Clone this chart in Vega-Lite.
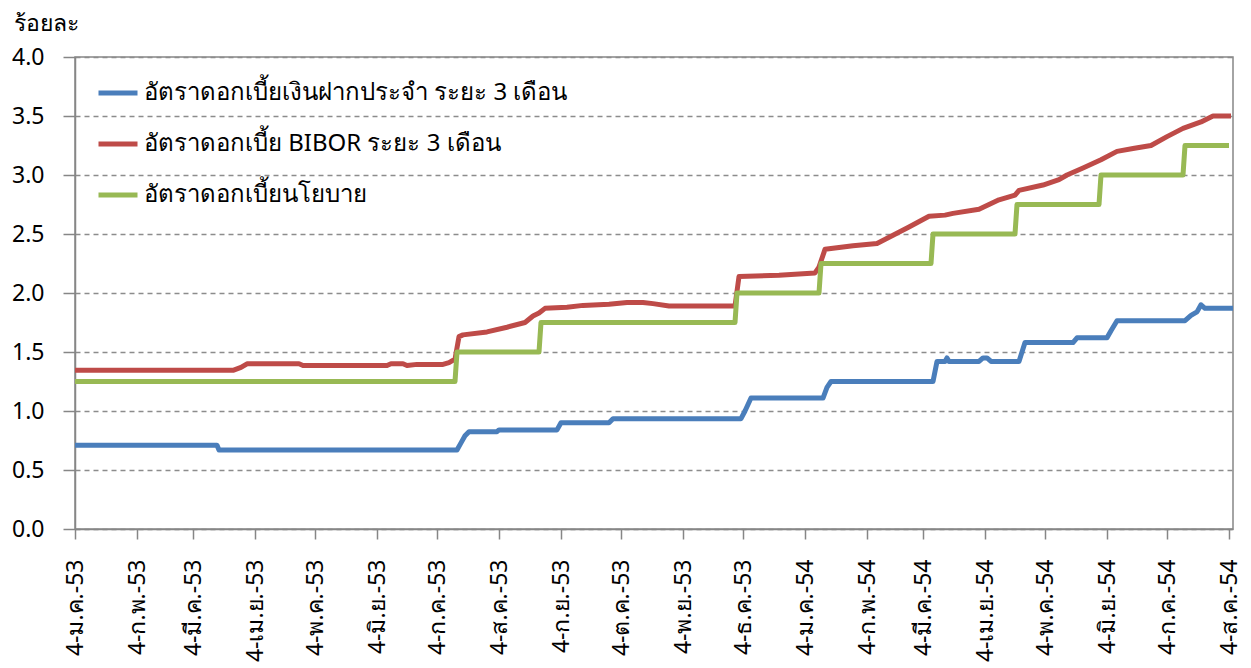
{
  "$schema": "https://vega.github.io/schema/vega-lite/v6.json",
  "autosize": {"type": "none"},
  "width": 1158,
  "height": 472,
  "padding": {"left": 75, "top": 57, "right": 18, "bottom": 139},
  "background": "white",
  "config": {
    "font": "Noto Sans",
    "view": {"stroke": "#868686", "strokeWidth": 1.5},
    "axis": {"domainColor": "#868686", "tickColor": "#868686", "labelColor": "#000000", "titleColor": "#000000", "domainWidth": 1.5, "tickWidth": 1.5}
  },
  "data": {
    "format": {"parse": {"date": "date:'%Y-%m-%d'"}},
    "values": [
      {"date": "2010-01-04", "series": "อัตราดอกเบี้ยเงินฝากประจำ ระยะ 3 เดือน", "v": 0.71},
      {"date": "2010-03-16", "series": "อัตราดอกเบี้ยเงินฝากประจำ ระยะ 3 เดือน", "v": 0.71},
      {"date": "2010-03-17", "series": "อัตราดอกเบี้ยเงินฝากประจำ ระยะ 3 เดือน", "v": 0.67},
      {"date": "2010-07-14", "series": "อัตราดอกเบี้ยเงินฝากประจำ ระยะ 3 เดือน", "v": 0.67},
      {"date": "2010-07-16", "series": "อัตราดอกเบี้ยเงินฝากประจำ ระยะ 3 เดือน", "v": 0.73},
      {"date": "2010-07-18", "series": "อัตราดอกเบี้ยเงินฝากประจำ ระยะ 3 เดือน", "v": 0.79},
      {"date": "2010-07-20", "series": "อัตราดอกเบี้ยเงินฝากประจำ ระยะ 3 เดือน", "v": 0.825},
      {"date": "2010-08-03", "series": "อัตราดอกเบี้ยเงินฝากประจำ ระยะ 3 เดือน", "v": 0.825},
      {"date": "2010-08-04", "series": "อัตราดอกเบี้ยเงินฝากประจำ ระยะ 3 เดือน", "v": 0.84},
      {"date": "2010-09-02", "series": "อัตราดอกเบี้ยเงินฝากประจำ ระยะ 3 เดือน", "v": 0.84},
      {"date": "2010-09-04", "series": "อัตราดอกเบี้ยเงินฝากประจำ ระยะ 3 เดือน", "v": 0.90},
      {"date": "2010-09-28", "series": "อัตราดอกเบี้ยเงินฝากประจำ ระยะ 3 เดือน", "v": 0.90},
      {"date": "2010-09-30", "series": "อัตราดอกเบี้ยเงินฝากประจำ ระยะ 3 เดือน", "v": 0.935},
      {"date": "2010-12-03", "series": "อัตราดอกเบี้ยเงินฝากประจำ ระยะ 3 เดือน", "v": 0.935},
      {"date": "2010-12-05", "series": "อัตราดอกเบี้ยเงินฝากประจำ ระยะ 3 เดือน", "v": 1.00},
      {"date": "2010-12-08", "series": "อัตราดอกเบี้ยเงินฝากประจำ ระยะ 3 เดือน", "v": 1.11},
      {"date": "2011-01-13", "series": "อัตราดอกเบี้ยเงินฝากประจำ ระยะ 3 เดือน", "v": 1.11},
      {"date": "2011-01-15", "series": "อัตราดอกเบี้ยเงินฝากประจำ ระยะ 3 เดือน", "v": 1.20},
      {"date": "2011-01-17", "series": "อัตราดอกเบี้ยเงินฝากประจำ ระยะ 3 เดือน", "v": 1.25},
      {"date": "2011-03-09", "series": "อัตราดอกเบี้ยเงินฝากประจำ ระยะ 3 เดือน", "v": 1.25},
      {"date": "2011-03-11", "series": "อัตราดอกเบี้ยเงินฝากประจำ ระยะ 3 เดือน", "v": 1.42},
      {"date": "2011-03-15", "series": "อัตราดอกเบี้ยเงินฝากประจำ ระยะ 3 เดือน", "v": 1.42},
      {"date": "2011-03-16", "series": "อัตราดอกเบี้ยเงินฝากประจำ ระยะ 3 เดือน", "v": 1.45},
      {"date": "2011-03-17", "series": "อัตราดอกเบี้ยเงินฝากประจำ ระยะ 3 เดือน", "v": 1.42},
      {"date": "2011-04-01", "series": "อัตราดอกเบี้ยเงินฝากประจำ ระยะ 3 เดือน", "v": 1.42},
      {"date": "2011-04-03", "series": "อัตราดอกเบี้ยเงินฝากประจำ ระยะ 3 เดือน", "v": 1.45},
      {"date": "2011-04-05", "series": "อัตราดอกเบี้ยเงินฝากประจำ ระยะ 3 เดือน", "v": 1.45},
      {"date": "2011-04-07", "series": "อัตราดอกเบี้ยเงินฝากประจำ ระยะ 3 เดือน", "v": 1.42},
      {"date": "2011-04-21", "series": "อัตราดอกเบี้ยเงินฝากประจำ ระยะ 3 เดือน", "v": 1.42},
      {"date": "2011-04-24", "series": "อัตราดอกเบี้ยเงินฝากประจำ ระยะ 3 เดือน", "v": 1.58},
      {"date": "2011-05-18", "series": "อัตราดอกเบี้ยเงินฝากประจำ ระยะ 3 เดือน", "v": 1.58},
      {"date": "2011-05-20", "series": "อัตราดอกเบี้ยเงินฝากประจำ ระยะ 3 เดือน", "v": 1.62},
      {"date": "2011-06-04", "series": "อัตราดอกเบี้ยเงินฝากประจำ ระยะ 3 เดือน", "v": 1.62},
      {"date": "2011-06-06", "series": "อัตราดอกเบี้ยเงินฝากประจำ ระยะ 3 เดือน", "v": 1.68},
      {"date": "2011-06-09", "series": "อัตราดอกเบี้ยเงินฝากประจำ ระยะ 3 เดือน", "v": 1.765},
      {"date": "2011-07-13", "series": "อัตราดอกเบี้ยเงินฝากประจำ ระยะ 3 เดือน", "v": 1.765},
      {"date": "2011-07-16", "series": "อัตราดอกเบี้ยเงินฝากประจำ ระยะ 3 เดือน", "v": 1.81},
      {"date": "2011-07-19", "series": "อัตราดอกเบี้ยเงินฝากประจำ ระยะ 3 เดือน", "v": 1.84},
      {"date": "2011-07-21", "series": "อัตราดอกเบี้ยเงินฝากประจำ ระยะ 3 เดือน", "v": 1.90},
      {"date": "2011-07-23", "series": "อัตราดอกเบี้ยเงินฝากประจำ ระยะ 3 เดือน", "v": 1.87},
      {"date": "2011-08-06", "series": "อัตราดอกเบี้ยเงินฝากประจำ ระยะ 3 เดือน", "v": 1.87},

      {"date": "2010-01-04", "series": "อัตราดอกเบี้ย BIBOR ระยะ 3 เดือน", "v": 1.345},
      {"date": "2010-03-24", "series": "อัตราดอกเบี้ย BIBOR ระยะ 3 เดือน", "v": 1.345},
      {"date": "2010-03-28", "series": "อัตราดอกเบี้ย BIBOR ระยะ 3 เดือน", "v": 1.37},
      {"date": "2010-03-31", "series": "อัตราดอกเบี้ย BIBOR ระยะ 3 เดือน", "v": 1.40},
      {"date": "2010-04-26", "series": "อัตราดอกเบี้ย BIBOR ระยะ 3 เดือน", "v": 1.40},
      {"date": "2010-04-28", "series": "อัตราดอกเบี้ย BIBOR ระยะ 3 เดือน", "v": 1.385},
      {"date": "2010-06-09", "series": "อัตราดอกเบี้ย BIBOR ระยะ 3 เดือน", "v": 1.385},
      {"date": "2010-06-11", "series": "อัตราดอกเบี้ย BIBOR ระยะ 3 เดือน", "v": 1.40},
      {"date": "2010-06-17", "series": "อัตราดอกเบี้ย BIBOR ระยะ 3 เดือน", "v": 1.40},
      {"date": "2010-06-19", "series": "อัตราดอกเบี้ย BIBOR ระยะ 3 เดือน", "v": 1.385},
      {"date": "2010-06-24", "series": "อัตราดอกเบี้ย BIBOR ระยะ 3 เดือน", "v": 1.395},
      {"date": "2010-07-07", "series": "อัตราดอกเบี้ย BIBOR ระยะ 3 เดือน", "v": 1.395},
      {"date": "2010-07-10", "series": "อัตราดอกเบี้ย BIBOR ระยะ 3 เดือน", "v": 1.41},
      {"date": "2010-07-13", "series": "อัตราดอกเบี้ย BIBOR ระยะ 3 เดือน", "v": 1.44},
      {"date": "2010-07-15", "series": "อัตราดอกเบี้ย BIBOR ระยะ 3 เดือน", "v": 1.63},
      {"date": "2010-07-17", "series": "อัตราดอกเบี้ย BIBOR ระยะ 3 เดือน", "v": 1.645},
      {"date": "2010-07-29", "series": "อัตราดอกเบี้ย BIBOR ระยะ 3 เดือน", "v": 1.67},
      {"date": "2010-08-08", "series": "อัตราดอกเบี้ย BIBOR ระยะ 3 เดือน", "v": 1.71},
      {"date": "2010-08-17", "series": "อัตราดอกเบี้ย BIBOR ระยะ 3 เดือน", "v": 1.75},
      {"date": "2010-08-21", "series": "อัตราดอกเบี้ย BIBOR ระยะ 3 เดือน", "v": 1.805},
      {"date": "2010-08-24", "series": "อัตราดอกเบี้ย BIBOR ระยะ 3 เดือน", "v": 1.83},
      {"date": "2010-08-27", "series": "อัตราดอกเบี้ย BIBOR ระยะ 3 เดือน", "v": 1.87},
      {"date": "2010-09-07", "series": "อัตราดอกเบี้ย BIBOR ระยะ 3 เดือน", "v": 1.88},
      {"date": "2010-09-15", "series": "อัตราดอกเบี้ย BIBOR ระยะ 3 เดือน", "v": 1.895},
      {"date": "2010-09-28", "series": "อัตราดอกเบี้ย BIBOR ระยะ 3 เดือน", "v": 1.905},
      {"date": "2010-10-07", "series": "อัตราดอกเบี้ย BIBOR ระยะ 3 เดือน", "v": 1.92},
      {"date": "2010-10-15", "series": "อัตราดอกเบี้ย BIBOR ระยะ 3 เดือน", "v": 1.92},
      {"date": "2010-10-20", "series": "อัตราดอกเบี้ย BIBOR ระยะ 3 เดือน", "v": 1.91},
      {"date": "2010-10-28", "series": "อัตราดอกเบี้ย BIBOR ระยะ 3 เดือน", "v": 1.89},
      {"date": "2010-11-30", "series": "อัตราดอกเบี้ย BIBOR ระยะ 3 เดือน", "v": 1.89},
      {"date": "2010-12-02", "series": "อัตราดอกเบี้ย BIBOR ระยะ 3 เดือน", "v": 2.14},
      {"date": "2010-12-22", "series": "อัตราดอกเบี้ย BIBOR ระยะ 3 เดือน", "v": 2.15},
      {"date": "2011-01-09", "series": "อัตราดอกเบี้ย BIBOR ระยะ 3 เดือน", "v": 2.17},
      {"date": "2011-01-11", "series": "อัตราดอกเบี้ย BIBOR ระยะ 3 เดือน", "v": 2.22},
      {"date": "2011-01-14", "series": "อัตราดอกเบี้ย BIBOR ระยะ 3 เดือน", "v": 2.37},
      {"date": "2011-01-28", "series": "อัตราดอกเบี้ย BIBOR ระยะ 3 เดือน", "v": 2.40},
      {"date": "2011-02-09", "series": "อัตราดอกเบี้ย BIBOR ระยะ 3 เดือน", "v": 2.42},
      {"date": "2011-02-17", "series": "อัตราดอกเบี้ย BIBOR ระยะ 3 เดือน", "v": 2.49},
      {"date": "2011-02-25", "series": "อัตราดอกเบี้ย BIBOR ระยะ 3 เดือน", "v": 2.56},
      {"date": "2011-03-07", "series": "อัตราดอกเบี้ย BIBOR ระยะ 3 เดือน", "v": 2.65},
      {"date": "2011-03-15", "series": "อัตราดอกเบี้ย BIBOR ระยะ 3 เดือน", "v": 2.66},
      {"date": "2011-03-19", "series": "อัตราดอกเบี้ย BIBOR ระยะ 3 เดือน", "v": 2.675},
      {"date": "2011-04-01", "series": "อัตราดอกเบี้ย BIBOR ระยะ 3 เดือน", "v": 2.71},
      {"date": "2011-04-11", "series": "อัตราดอกเบี้ย BIBOR ระยะ 3 เดือน", "v": 2.79},
      {"date": "2011-04-19", "series": "อัตราดอกเบี้ย BIBOR ระยะ 3 เดือน", "v": 2.83},
      {"date": "2011-04-21", "series": "อัตราดอกเบี้ย BIBOR ระยะ 3 เดือน", "v": 2.87},
      {"date": "2011-05-03", "series": "อัตราดอกเบี้ย BIBOR ระยะ 3 เดือน", "v": 2.915},
      {"date": "2011-05-11", "series": "อัตราดอกเบี้ย BIBOR ระยะ 3 เดือน", "v": 2.96},
      {"date": "2011-05-15", "series": "อัตราดอกเบี้ย BIBOR ระยะ 3 เดือน", "v": 3.00},
      {"date": "2011-05-23", "series": "อัตราดอกเบี้ย BIBOR ระยะ 3 เดือน", "v": 3.06},
      {"date": "2011-06-01", "series": "อัตราดอกเบี้ย BIBOR ระยะ 3 เดือน", "v": 3.13},
      {"date": "2011-06-09", "series": "อัตราดอกเบี้ย BIBOR ระยะ 3 เดือน", "v": 3.20},
      {"date": "2011-06-17", "series": "อัตราดอกเบี้ย BIBOR ระยะ 3 เดือน", "v": 3.225},
      {"date": "2011-06-26", "series": "อัตราดอกเบี้ย BIBOR ระยะ 3 เดือน", "v": 3.25},
      {"date": "2011-07-04", "series": "อัตราดอกเบี้ย BIBOR ระยะ 3 เดือน", "v": 3.325},
      {"date": "2011-07-12", "series": "อัตราดอกเบี้ย BIBOR ระยะ 3 เดือน", "v": 3.395},
      {"date": "2011-07-21", "series": "อัตราดอกเบี้ย BIBOR ระยะ 3 เดือน", "v": 3.45},
      {"date": "2011-07-27", "series": "อัตราดอกเบี้ย BIBOR ระยะ 3 เดือน", "v": 3.50},
      {"date": "2011-08-05", "series": "อัตราดอกเบี้ย BIBOR ระยะ 3 เดือน", "v": 3.50},

      {"date": "2010-01-04", "series": "อัตราดอกเบี้ยนโยบาย", "v": 1.25},
      {"date": "2010-07-13", "series": "อัตราดอกเบี้ยนโยบาย", "v": 1.25},
      {"date": "2010-07-14", "series": "อัตราดอกเบี้ยนโยบาย", "v": 1.50},
      {"date": "2010-08-24", "series": "อัตราดอกเบี้ยนโยบาย", "v": 1.50},
      {"date": "2010-08-25", "series": "อัตราดอกเบี้ยนโยบาย", "v": 1.75},
      {"date": "2010-11-30", "series": "อัตราดอกเบี้ยนโยบาย", "v": 1.75},
      {"date": "2010-12-01", "series": "อัตราดอกเบี้ยนโยบาย", "v": 2.00},
      {"date": "2011-01-11", "series": "อัตราดอกเบี้ยนโยบาย", "v": 2.00},
      {"date": "2011-01-12", "series": "อัตราดอกเบี้ยนโยบาย", "v": 2.25},
      {"date": "2011-03-08", "series": "อัตราดอกเบี้ยนโยบาย", "v": 2.25},
      {"date": "2011-03-09", "series": "อัตราดอกเบี้ยนโยบาย", "v": 2.50},
      {"date": "2011-04-19", "series": "อัตราดอกเบี้ยนโยบาย", "v": 2.50},
      {"date": "2011-04-20", "series": "อัตราดอกเบี้ยนโยบาย", "v": 2.75},
      {"date": "2011-05-31", "series": "อัตราดอกเบี้ยนโยบาย", "v": 2.75},
      {"date": "2011-06-01", "series": "อัตราดอกเบี้ยนโยบาย", "v": 3.00},
      {"date": "2011-07-12", "series": "อัตราดอกเบี้ยนโยบาย", "v": 3.00},
      {"date": "2011-07-13", "series": "อัตราดอกเบี้ยนโยบาย", "v": 3.25},
      {"date": "2011-08-04", "series": "อัตราดอกเบี้ยนโยบาย", "v": 3.25}
    ]
  },
  "mark": {"type": "line", "strokeWidth": 5, "strokeJoin": "round", "strokeCap": "butt"},
  "encoding": {
    "x": {
      "field": "date",
      "type": "temporal",
      "scale": {"domain": [{"year": 2010, "month": 1, "date": 4}, {"year": 2011, "month": 8, "date": 6}]},
      "axis": {
        "title": null,
        "grid": false,
        "values": [
          {"year": 2010, "month": 1, "date": 4}, {"year": 2010, "month": 2, "date": 4}, {"year": 2010, "month": 3, "date": 4},
          {"year": 2010, "month": 4, "date": 4}, {"year": 2010, "month": 5, "date": 4}, {"year": 2010, "month": 6, "date": 4},
          {"year": 2010, "month": 7, "date": 4}, {"year": 2010, "month": 8, "date": 4}, {"year": 2010, "month": 9, "date": 4},
          {"year": 2010, "month": 10, "date": 4}, {"year": 2010, "month": 11, "date": 4}, {"year": 2010, "month": 12, "date": 4},
          {"year": 2011, "month": 1, "date": 4}, {"year": 2011, "month": 2, "date": 4}, {"year": 2011, "month": 3, "date": 4},
          {"year": 2011, "month": 4, "date": 4}, {"year": 2011, "month": 5, "date": 4}, {"year": 2011, "month": 6, "date": 4},
          {"year": 2011, "month": 7, "date": 4}, {"year": 2011, "month": 8, "date": 4}
        ],
        "labelExpr": "'4-' + ['ม.ค.','ก.พ.','มี.ค.','เม.ย.','พ.ค.','มิ.ย.','ก.ค.','ส.ค.','ก.ย.','ต.ค.','พ.ย.','ธ.ค.'][month(datum.value)] + '-' + (year(datum.value) + 543 - 2500)",
        "labelAngle": 270,
        "labelAlign": "right",
        "labelBaseline": "middle",
        "labelFontSize": 23,
        "labelPadding": 20,
        "tickSize": 10,
        "labelOverlap": false,
        "labelFlush": false
      }
    },
    "y": {
      "field": "v",
      "type": "quantitative",
      "scale": {"domain": [0, 4], "nice": false},
      "axis": {
        "title": "ร้อยละ",
        "titleAngle": 0,
        "titleAlign": "left",
        "titleBaseline": "alphabetic",
        "titleX": -62,
        "titleY": -27,
        "titleFontSize": 23,
        "titleFontWeight": "normal",
        "values": [0, 0.5, 1, 1.5, 2, 2.5, 3, 3.5, 4],
        "format": ".1f",
        "labelFontSize": 23,
        "labelPadding": 19,
        "tickSize": 12,
        "grid": true,
        "gridColor": "#8c8c8c",
        "gridDash": [5, 4],
        "gridWidth": 1.3
      }
    },
    "color": {
      "field": "series",
      "type": "nominal",
      "scale": {
        "domain": ["อัตราดอกเบี้ยเงินฝากประจำ ระยะ 3 เดือน", "อัตราดอกเบี้ย BIBOR ระยะ 3 เดือน", "อัตราดอกเบี้ยนโยบาย"],
        "range": ["#4a7ebb", "#be4b48", "#98b954"]
      },
      "legend": {
        "title": null,
        "orient": "none",
        "legendX": 21,
        "legendY": 14,
        "symbolType": "stroke",
        "symbolSize": 1521,
        "symbolStrokeWidth": 5,
        "labelFontSize": 24,
        "labelLimit": 600,
        "labelOffset": 4,
        "rowPadding": 17
      }
    }
  }
}
